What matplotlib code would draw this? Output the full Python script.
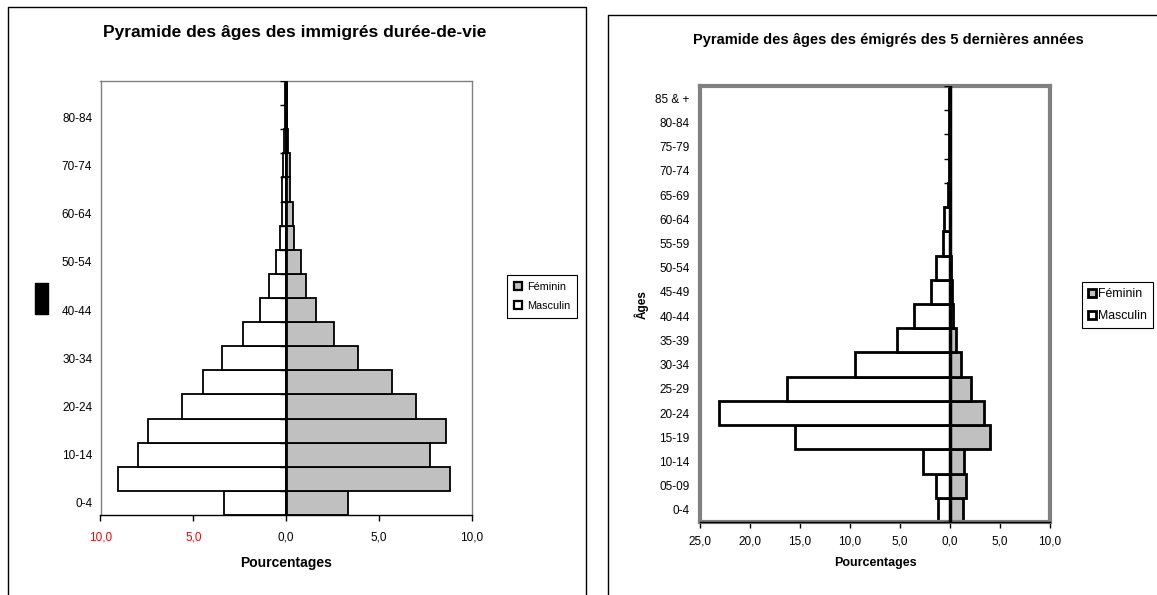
import numpy as np
import matplotlib
matplotlib.use("Agg")
import matplotlib.pyplot as plt
from matplotlib.lines import Line2D
from matplotlib.patches import Rectangle

plt.rcParams['font.family'] = ['Liberation Sans', 'DejaVu Sans']

# age groups, bottom to top
ages_immig = ['0-4', '5-9', '10-14', '15-19', '20-24', '25-29', '30-34', '35-39', '40-44',
              '45-49', '50-54', '55-59', '60-64', '65-69', '70-74', '75-79', '80-84', '85 & +']
ages_emig = ['0-4', '05-09', '10-14', '15-19', '20-24', '25-29', '30-34', '35-39', '40-44',
             '45-49', '50-54', '55-59', '60-64', '65-69', '70-74', '75-79', '80-84', '85 & +']

# immigrés durée-de-vie (%)
immig_masc = [3.35, 9.05, 8.0, 7.45, 5.6, 4.5, 3.45, 2.3, 1.4,
              0.9, 0.55, 0.35, 0.2, 0.23, 0.14, 0.1, 0.05, 0.03]
immig_fem = [3.35, 8.85, 7.75, 8.6, 7.0, 5.7, 3.9, 2.6, 1.6,
             1.1, 0.8, 0.45, 0.37, 0.21, 0.23, 0.1, 0.06, 0.05]

# émigrés des 5 dernières années (%)
emig_masc = [1.2, 1.4, 2.7, 15.5, 23.1, 16.3, 9.5, 5.3, 3.55,
             1.9, 1.35, 0.65, 0.55, 0.12, 0.1, 0.08, 0.05, 0.05]
emig_fem = [1.35, 1.6, 1.45, 4.0, 3.45, 2.1, 1.15, 0.6, 0.35,
            0.25, 0.1, 0.05, 0.05, 0.03, 0.02, 0.02, 0.02, 0.02]

xticks_immig = [-10, -5, 0, 5, 10]
xlabels_immig = ['10,0', '5,0', '0,0', '5,0', '10,0']
xticks_emig = [-25, -20, -15, -10, -5, 0, 5, 10]
xlabels_emig = ['25,0', '20,0', '15,0', '10,0', '5,0', '0,0', '5,0', '10,0']

W, H = 1157, 595


def fx(px):
    return px / W


def fy(py):
    return 1 - py / H


fig = plt.figure(figsize=(W / 100, H / 100), dpi=100)
GRAY = '#c0c0c0'
FRAME = '#808080'

# ---------------- left chart ----------------
ax1 = fig.add_axes([fx(100.5), fy(515), 371 / W, 434 / H])
y1 = np.arange(len(ages_immig))
ax1.barh(y1, [-v for v in immig_masc], height=1, color='white', edgecolor='black', lw=1.3)
ax1.barh(y1, immig_fem, height=1, color=GRAY, edgecolor='black', lw=1.3)
ax1.axvline(0, color='black', lw=2, zorder=3)
ax1.plot(np.zeros(len(y1) + 1), np.arange(len(y1) + 1) - 0.5, ls='none', marker=0,
         markersize=4, mew=1, color='black', zorder=3)
ax1.set_xlim(-10, 10)
ax1.set_ylim(-0.5, len(y1) - 0.5)
for s in ['left', 'top', 'right']:
    ax1.spines[s].set_color(FRAME)
    ax1.spines[s].set_linewidth(1)
ax1.spines['bottom'].set_color('black')
ax1.spines['bottom'].set_linewidth(1)
ax1.set_xticks(xticks_immig)
ax1.set_xticklabels(xlabels_immig, fontsize=8.5)
for t, v in zip(ax1.get_xticklabels(), xticks_immig):
    t.set_color('red' if v < 0 else 'black')
ax1.tick_params(axis='x', direction='out', length=4, width=1, pad=8)
ax1.set_yticks(y1[::2])
ax1.set_yticklabels(ages_immig[::2], fontsize=8.5)
ax1.tick_params(axis='y', length=0, pad=6)

fig.text(fx(295), fy(33), 'Pyramide des âges des immigrés durée-de-vie',
         ha='center', va='center', fontsize=12.5, fontweight='bold')
fig.text(fx(286), fy(563), 'Pourcentages', ha='center', va='center',
         fontsize=10, fontweight='bold')

h_fem1 = Line2D([], [], ls='none', marker='s', markersize=5.5, mfc=GRAY, mec='black', mew=1.6)
h_masc1 = Line2D([], [], ls='none', marker='s', markersize=5.5, mfc='white', mec='black', mew=1.6)
leg1 = fig.legend([h_fem1, h_masc1], ['Féminin', 'Masculin'], loc='upper left',
                  bbox_to_anchor=(fx(507), fy(275)), fontsize=7.8, fancybox=False,
                  framealpha=1, edgecolor='black', handlelength=0.8, handletextpad=0.5,
                  borderpad=0.6, labelspacing=0.9, borderaxespad=0)
leg1.get_frame().set_linewidth(0.8)

# frame around the left chart, and the dark block beside it
fig.add_artist(Line2D([fx(7.7), fx(7.7), fx(586), fx(586)], [0, fy(7), fy(7), 0],
                      color='black', lw=1, transform=fig.transFigure))
fig.add_artist(Rectangle((fx(34.5), fy(314)), 13.5 / W, 31 / H, color='black',
                         transform=fig.transFigure))

# ---------------- right chart ----------------
ax2 = fig.add_axes([fx(699.5), fy(522), 350 / W, 436 / H])
y2 = np.arange(len(ages_emig))
ax2.barh(y2, [-v for v in emig_masc], height=1, color='white', edgecolor='black', lw=2)
ax2.barh(y2, emig_fem, height=1, color=GRAY, edgecolor='black', lw=2)
ax2.axvline(0, color='black', lw=2.5, zorder=3)
ax2.plot(np.zeros(len(y2) + 1), np.arange(len(y2) + 1) - 0.5, ls='none', marker=0,
         markersize=4, mew=1, color='black', zorder=3)
ax2.set_xlim(-25, 10)
ax2.set_ylim(-0.5, len(y2) - 0.5)
for s in ['left', 'top', 'right', 'bottom']:
    ax2.spines[s].set_color(FRAME)
    ax2.spines[s].set_linewidth(3)
ax2.axhline(-0.5, color='black', lw=1, clip_on=False, zorder=4)
ax2.set_xticks(xticks_emig)
ax2.set_xticklabels(xlabels_emig, fontsize=8.5)
ax2.tick_params(axis='x', direction='out', length=4, width=1, color='black', pad=6)
ax2.set_yticks(y2)
ax2.set_yticklabels(ages_emig, fontsize=8.5)
ax2.tick_params(axis='y', length=0, pad=7)

fig.text(fx(888), fy(40), 'Pyramide des âges des émigrés des 5 dernières années',
         ha='center', va='center', fontsize=10.5, fontweight='bold')
fig.text(fx(875), fy(563), 'Pourcentages', ha='center', va='center',
         fontsize=9, fontweight='bold')
fig.text(fx(641), fy(305), 'Âges', ha='center', va='center', rotation=90,
         fontsize=8.5, fontweight='bold')

h_fem2 = Line2D([], [], ls='none', marker='s', markersize=5.5, mfc=GRAY, mec='black', mew=2)
h_masc2 = Line2D([], [], ls='none', marker='s', markersize=5.5, mfc='white', mec='black', mew=2)
leg2 = fig.legend([h_fem2, h_masc2], ['Féminin', 'Masculin'], loc='upper left',
                  bbox_to_anchor=(fx(1082), fy(282)), fontsize=8.8, fancybox=False,
                  framealpha=1, edgecolor='black', handlelength=0.6, handletextpad=0.2,
                  borderpad=0.5, labelspacing=0.8, borderaxespad=0)
leg2.get_frame().set_linewidth(0.8)

fig.add_artist(Line2D([fx(608), fx(608), 1.0], [0, fy(15), fy(15)],
                      color='black', lw=1, transform=fig.transFigure))

fig.savefig('out.png', dpi=100)
